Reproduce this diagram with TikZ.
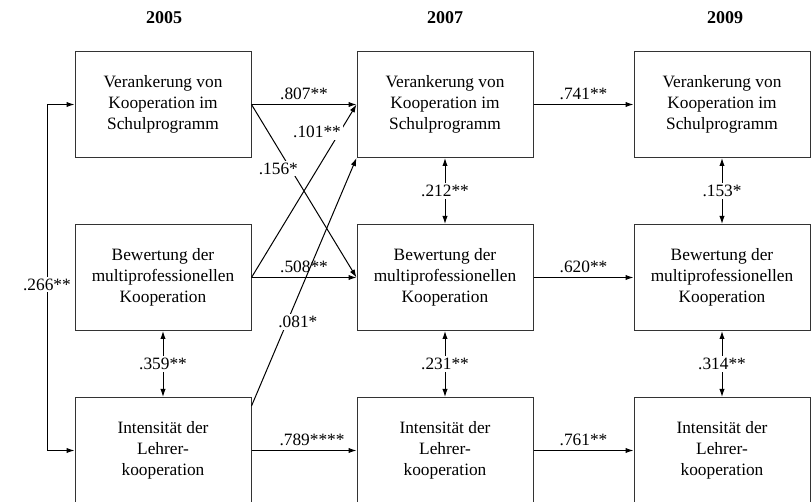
\documentclass[tikz,border=0pt]{standalone}
\usepackage{fontspec}
\setmainfont{Liberation Serif}
\usetikzlibrary{arrows.meta}
\usetikzlibrary{positioning}
\usetikzlibrary{calc}

\tikzset{
    constrbox/.style = {draw = black!80, line width = 0.75pt, minimum width = 132pt, minimum height = 79.5pt, align = center, inner sep = 2pt},
    yearlabel/.style = {font = \fontsize{13.5}{16}\selectfont\bfseries},
    coeflabel/.style = {fill = white, inner sep = 1.5pt}
}

\begin{document}
\begin{tikzpicture}[x = 0.75pt, y = -0.75pt, line width = 0.75pt, font = \fontsize{13}{15.75}\selectfont, >={Latex[length = 6pt, width = 4pt]}]
                \useasboundingbox (0,0) rectangle (811,502);

                % Draw the years:
                \node [yearlabel] (y05) at (164,18) {2005};
                \node [yearlabel] (y07) at (445,18) {2007};
                \node [yearlabel] (y09) at (725,18) {2009};

                % Draw the constructs:
                \node [constrbox] (v05) at (163,104.5) {Verankerung von\\Kooperation im\\Schulprogramm};
                \node [constrbox] (v07) at (445,104.5) {Verankerung von\\Kooperation im\\Schulprogramm};
                \node [constrbox] (v09) at (722,104.5) {Verankerung von\\Kooperation im\\Schulprogramm};
                \node [constrbox] (b05) at (163,277.5) {Bewertung der\\multiprofessionellen\\Kooperation};
                \node [constrbox] (b07) at (445,277.5) {Bewertung der\\multiprofessionellen\\Kooperation};
                \node [constrbox] (b09) at (722,277.5) {Bewertung der\\multiprofessionellen\\Kooperation};
                \node [constrbox] (i05) at (163,450.5) {Intensität der\\Lehrer-\\kooperation};
                \node [constrbox] (i07) at (445,450.5) {Intensität der\\Lehrer-\\kooperation};
                \node [constrbox] (i09) at (722,450.5) {Intensität der\\Lehrer-\\kooperation};

                % Draw the stability paths:
                \draw [->] (v05) -- (v07) node [midway, above] {.807**};
                \draw [->] (v07) -- (v09) node [midway, above] {.741**};
                \draw [->] (b05) -- (b07) node [midway, above] {.508**};
                \draw [->] (b07) -- (b09) node [midway, above] {.620**};
                \draw [->] (i05) -- (i07) node [midway, above, xshift = 6pt] {.789****};
                \draw [->] (i07) -- (i09) node [midway, above] {.761**};

                % Draw the cross-lagged paths:
                \draw [->] (v05.east) -- (b07.west) node [coeflabel, pos = .37, xshift = -9pt] {.156*};
                \draw [->] (b05.east) -- (v07.west) node [coeflabel, pos = .84, xshift = -17pt] {.101**};
                \draw [->] ($(i05.north east)+(0,9)$) -- (v07.south west) node [coeflabel, pos = .34, xshift = 8pt] {.081*};

                % Draw the correlations:
                \draw [<->] (v05.west) -- ++(-27.5,0) |- (i05.west) node [coeflabel, pos = .26] {.266**};
                \draw [<->] (b05) -- (i05) node [coeflabel, midway] {.359**};
                \draw [<->] (v07) -- (b07) node [coeflabel, midway] {.212**};
                \draw [<->] (b07) -- (i07) node [coeflabel, midway] {.231**};
                \draw [<->] (v09) -- (b09) node [coeflabel, midway] {.153*};
                \draw [<->] (b09) -- (i09) node [coeflabel, midway] {.314**};
            \end{tikzpicture}
\end{document}
